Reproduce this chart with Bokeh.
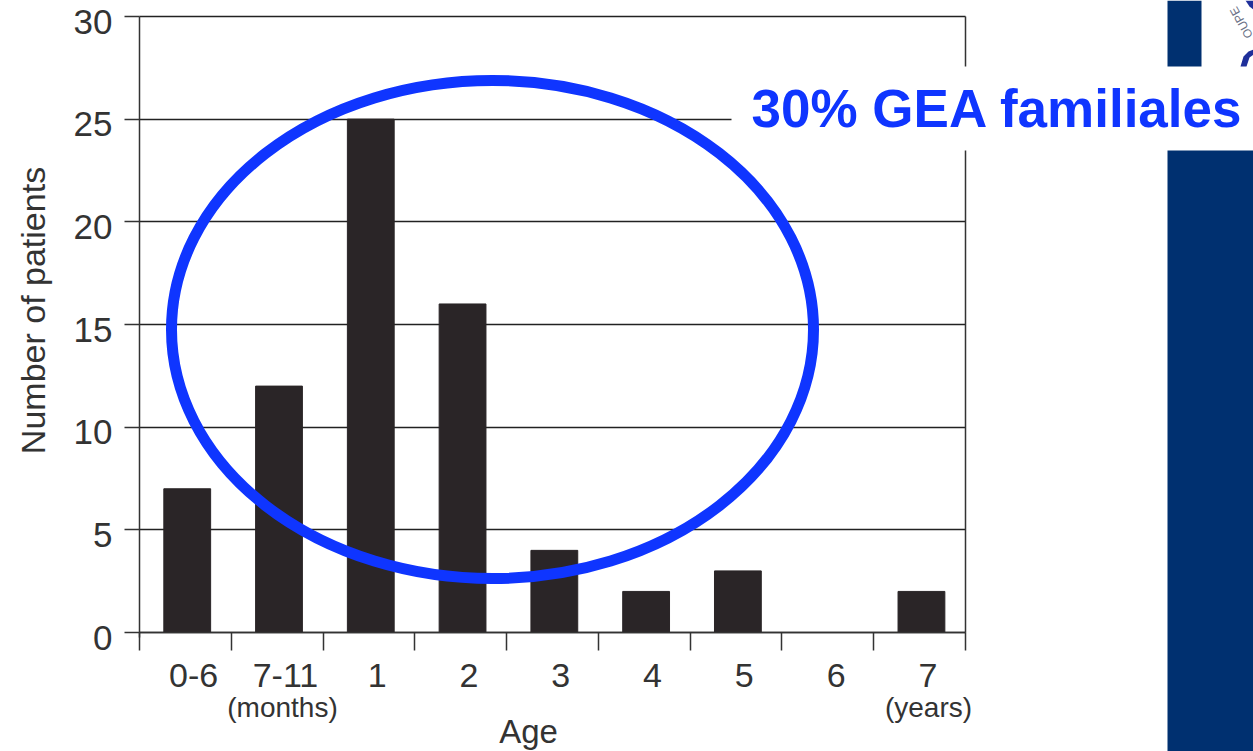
from math import pi
from bokeh.plotting import figure
from bokeh.models import FixedTicker, Label, BoxAnnotation, Range1d, LinearAxis, PolyAnnotation
from bokeh.embed import file_html
from bokeh.resources import INLINE

categories = ["0-6", "7-11", "1", "2", "3", "4", "5", "6", "7"]
patients = [7, 12, 25, 16, 4, 2, 3, 0, 2]
y_ticks = [0, 5, 10, 15, 20, 25, 30]

W, H = 1253, 751
INK = "#333333"
NAVY = "#003070"
BLUE = "#0F35FF"
FONT = "Liberation Sans"

L, R, T, B = 139, 965, 16, 632
n = len(categories)
ppx = (R - L) / n      # pixels per category
ppy = (B - T) / 30     # pixels per patient
x_lo, x_hi = -0.5, n - 0.5

# The frame fills the page so the slide furniture is not clipped; the axes sit inside it.
p = figure(width=W, height=H, output_backend="svg", toolbar_location=None,
           x_range=Range1d(x_lo - L / ppx, x_hi + (W - R) / ppx),
           y_range=Range1d(-(H - B) / ppy, 30 + T / ppy),
           min_border_left=0, min_border_right=0, min_border_top=0, min_border_bottom=0,
           background_fill_color="white", border_fill_color="white")
p.outline_line_color = None

xs = list(range(n))
p.vbar(x=[x + 0.02 for x in xs], top=patients, width=0.51, bottom=0,
       fill_color="#2A2527", line_color="#2A2527")

label_pos = [x + 0.09 for x in xs]
xa = p.xaxis[0]
xa.fixed_location = 0
xa.bounds = (x_lo, x_hi)
xa.ticker = FixedTicker(ticks=label_pos, minor_ticks=[i - 0.5 for i in range(n + 1)])
xa.major_label_overrides = {pos: c for pos, c in zip(label_pos, categories)}
xa.major_tick_in = 0
xa.major_tick_out = 0
xa.minor_tick_in = 0
xa.minor_tick_out = 18
xa.minor_tick_line_color = INK
xa.minor_tick_line_width = 1.5
xa.axis_line_color = INK
xa.axis_line_width = 1.5
xa.major_label_standoff = 13
xa.major_label_text_font = FONT
xa.major_label_text_font_size = "34px"
xa.major_label_text_color = INK

# labels sit a little below their tick marks, as in the original figure
ylabel_pos = [v - 0.25 for v in y_ticks]
ya = p.yaxis[0]
ya.fixed_location = x_lo
ya.bounds = (-0.25, 30)
ya.ticker = FixedTicker(ticks=ylabel_pos, minor_ticks=y_ticks)
ya.major_label_overrides = {pos: str(v) for pos, v in zip(ylabel_pos, y_ticks)}
ya.major_tick_in = 0
ya.major_tick_out = 0
ya.minor_tick_in = 0
ya.minor_tick_out = 15
ya.minor_tick_line_color = INK
ya.minor_tick_line_width = 1.5
ya.axis_line_color = INK
ya.axis_line_width = 1.5
ya.major_label_standoff = 12
ya.major_label_text_font = FONT
ya.major_label_text_font_size = "35px"
ya.major_label_text_color = INK

# right-hand frame edge
ra = LinearAxis(fixed_location=x_hi, bounds=(0, 30), ticker=FixedTicker(ticks=[]),
                major_label_text_font_size="0px", axis_line_color=INK, axis_line_width=1.5,
                major_tick_line_color=None, minor_tick_line_color=None)
p.add_layout(ra, "right")

p.xgrid.visible = False
p.ygrid.ticker = FixedTicker(ticks=y_ticks)
p.ygrid.grid_line_color = "#222222"
p.ygrid.grid_line_width = 1.5
p.ygrid.level = "underlay"
p.ygrid.cross_bounds = (x_lo, x_hi)

# Hand-drawn ellipse
p.ellipse(x=[(492 - L) / ppx + x_lo], y=[(B - 329) / ppy], width=642, height=498,
          width_units="screen", height_units="screen",
          fill_color=None, line_color=BLUE, line_width=11)

def canvas_label(px, py, text, size, **kw):
    p.add_layout(Label(x=px, y=py, x_units="canvas", y_units="canvas", text=text,
                       text_font=FONT, text_font_size=size,
                       text_color=kw.pop("color", INK), text_align=kw.pop("align", "center"),
                       text_baseline="middle", level="overlay", **kw))

def box(l, r, t, b, color):
    p.add_layout(BoxAnnotation(left=l, right=r, top=t, bottom=b,
                               left_units="canvas", right_units="canvas",
                               top_units="canvas", bottom_units="canvas",
                               fill_color=color, fill_alpha=1, line_color=None, level="overlay"))

def blob(px, py, color):
    p.add_layout(PolyAnnotation(xs=px, ys=py, xs_units="canvas", ys_units="canvas",
                                fill_color=color, fill_alpha=1, line_color=None, level="overlay"))

# Slide furniture
box(731, 1167, 66, 150, "white")
box(1167, 1201, 0, 66, NAVY)
box(1167, 1253, 150, 751, NAVY)

# fragment of the logo seal at the top right
blob([1240, 1243, 1248, 1253, 1253, 1249, 1246], [66, 56, 51, 49, 54, 57, 66], "#1F2F9A")
blob([1245, 1253, 1253, 1249], [0, 0, 9, 6], "#1F2F9A")
canvas_label(1241, 22, "OUPE", "12px", color="#6A7085", angle=2.08)

canvas_label(32, 310, "Number of patients", "34px", angle=pi / 2)
canvas_label(282, 707, "(months)", "28px")
canvas_label(928, 707, "(years)", "28px")
canvas_label(528, 731, "Age", "33px")
canvas_label(997, 108, "30% GEA familiales", "53px", color=BLUE, text_font_style="bold")

open("out.html", "w").write(file_html(p, INLINE))
